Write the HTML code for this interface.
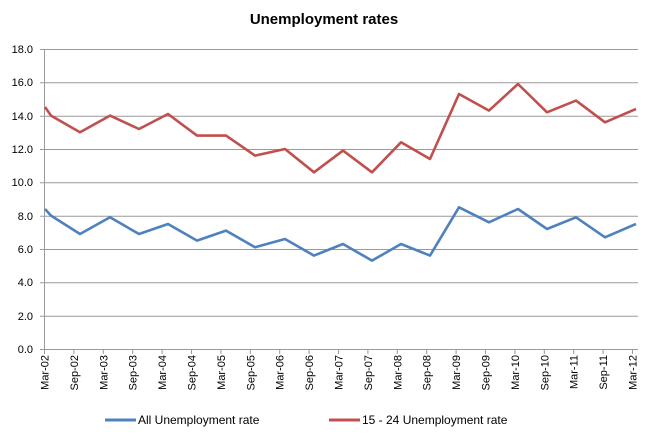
<!DOCTYPE html>
<html><head><meta charset="utf-8"><style>
body{margin:0;background:#fff;}
svg text{font-family:"Liberation Sans",sans-serif;}
</style></head><body>
<svg width="648" height="438" viewBox="0 0 648 438" xmlns="http://www.w3.org/2000/svg">
<rect width="648" height="438" fill="#fff"/>
<text x="324" y="24" text-anchor="middle" font-size="15" font-weight="bold" fill="#000">Unemployment rates</text>
<g stroke="#9a9a9a" stroke-width="1">
<line x1="40" y1="49.5" x2="638" y2="49.5"/>
<line x1="40" y1="82.8" x2="638" y2="82.8"/>
<line x1="40" y1="116.2" x2="638" y2="116.2"/>
<line x1="40" y1="149.5" x2="638" y2="149.5"/>
<line x1="40" y1="182.8" x2="638" y2="182.8"/>
<line x1="40" y1="216.2" x2="638" y2="216.2"/>
<line x1="40" y1="249.5" x2="638" y2="249.5"/>
<line x1="40" y1="282.8" x2="638" y2="282.8"/>
<line x1="40" y1="316.2" x2="638" y2="316.2"/>
<line x1="40" y1="349.5" x2="638" y2="349.5"/>
<line x1="44.5" y1="49" x2="44.5" y2="354"/>
<line x1="73.9" y1="349" x2="73.9" y2="354"/><line x1="103.3" y1="349" x2="103.3" y2="354"/>
<line x1="132.7" y1="349" x2="132.7" y2="354"/><line x1="162.1" y1="349" x2="162.1" y2="354"/>
<line x1="191.5" y1="349" x2="191.5" y2="354"/><line x1="220.9" y1="349" x2="220.9" y2="354"/>
<line x1="250.3" y1="349" x2="250.3" y2="354"/><line x1="279.7" y1="349" x2="279.7" y2="354"/>
<line x1="309.1" y1="349" x2="309.1" y2="354"/><line x1="338.5" y1="349" x2="338.5" y2="354"/>
<line x1="367.9" y1="349" x2="367.9" y2="354"/><line x1="397.3" y1="349" x2="397.3" y2="354"/>
<line x1="426.7" y1="349" x2="426.7" y2="354"/><line x1="456.1" y1="349" x2="456.1" y2="354"/>
<line x1="485.5" y1="349" x2="485.5" y2="354"/><line x1="514.9" y1="349" x2="514.9" y2="354"/>
<line x1="544.3" y1="349" x2="544.3" y2="354"/><line x1="573.7" y1="349" x2="573.7" y2="354"/>
<line x1="603.1" y1="349" x2="603.1" y2="354"/><line x1="632.5" y1="349" x2="632.5" y2="354"/>
</g>
<g font-size="11" fill="#000" text-anchor="end">
<text x="33" y="53">18.0</text><text x="33" y="86">16.0</text><text x="33" y="120">14.0</text>
<text x="33" y="153">12.0</text><text x="33" y="186">10.0</text><text x="33" y="220">8.0</text>
<text x="33" y="253">6.0</text><text x="33" y="286">4.0</text><text x="33" y="320">2.0</text>
<text x="33" y="353">0.0</text>
</g>
<g font-size="11" fill="#000" text-anchor="end">
<text transform="translate(48.5,355) rotate(-90)">Mar-02</text>
<text transform="translate(77.9,355) rotate(-90)">Sep-02</text>
<text transform="translate(107.3,355) rotate(-90)">Mar-03</text>
<text transform="translate(136.7,355) rotate(-90)">Sep-03</text>
<text transform="translate(166.1,355) rotate(-90)">Mar-04</text>
<text transform="translate(195.5,355) rotate(-90)">Sep-04</text>
<text transform="translate(224.9,355) rotate(-90)">Mar-05</text>
<text transform="translate(254.3,355) rotate(-90)">Sep-05</text>
<text transform="translate(283.7,355) rotate(-90)">Mar-06</text>
<text transform="translate(313.1,355) rotate(-90)">Sep-06</text>
<text transform="translate(342.5,355) rotate(-90)">Mar-07</text>
<text transform="translate(371.9,355) rotate(-90)">Sep-07</text>
<text transform="translate(401.3,355) rotate(-90)">Mar-08</text>
<text transform="translate(430.7,355) rotate(-90)">Sep-08</text>
<text transform="translate(460.1,355) rotate(-90)">Mar-09</text>
<text transform="translate(489.5,355) rotate(-90)">Sep-09</text>
<text transform="translate(518.9,355) rotate(-90)">Mar-10</text>
<text transform="translate(548.3,355) rotate(-90)">Sep-10</text>
<text transform="translate(577.7,355) rotate(-90)">Mar-11</text>
<text transform="translate(607.1,355) rotate(-90)">Sep-11</text>
<text transform="translate(636.5,355) rotate(-90)">Mar-12</text>
</g>
<polyline fill="none" stroke="#c0504d" stroke-width="2.6" stroke-linejoin="round" points="45,107 51,115.6 80,132.3 110,115.6 139,129 168,114 197,135.6 226,135.6 255,155.6 285,149 314,172.3 343,150.6 372,172.3 401,142.3 430,159 459,94 489,110.6 518,84 547,112.3 576,100.6 605,122.3 636,109"/>
<polyline fill="none" stroke="#4f81bd" stroke-width="2.6" stroke-linejoin="round" points="45,209 51,215.6 80,234 110,217.3 139,234 168,224 197,240.6 226,230.6 255,247.3 285,239 314,255.6 343,244 372,260.6 401,244 430,255.6 459,207.3 489,222.3 518,209 547,229 576,217.3 605,237.3 636,224"/>
<line x1="105" y1="420" x2="136" y2="420" stroke="#4f81bd" stroke-width="3"/>
<text x="138" y="424" font-size="12" fill="#000">All Unemployment  rate</text>
<line x1="329" y1="420" x2="360" y2="420" stroke="#c0504d" stroke-width="3"/>
<text x="362" y="424" font-size="12" fill="#000">15 - 24  Unemployment rate</text>
</svg>
</body></html>
